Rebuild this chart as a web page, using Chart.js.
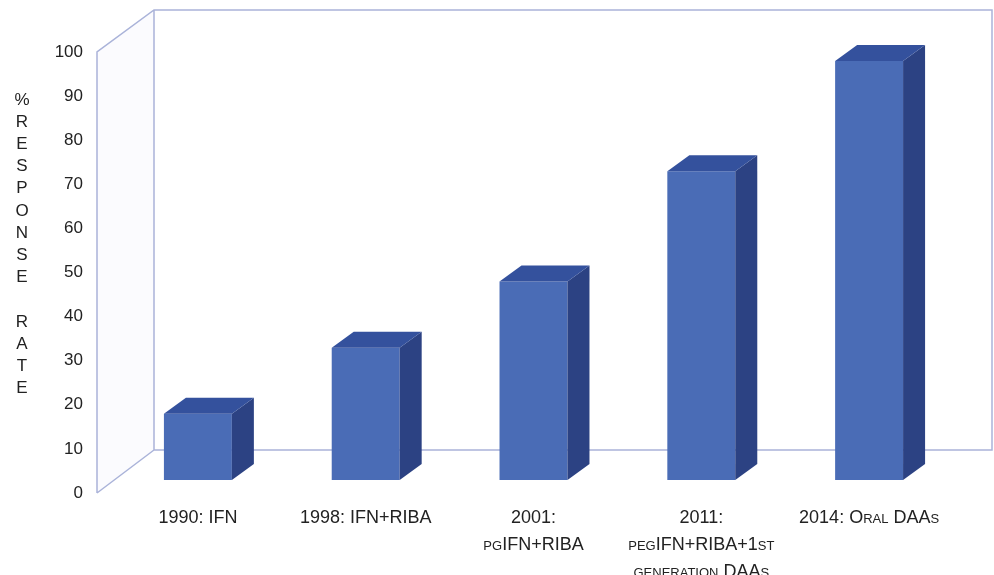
<!DOCTYPE html>
<html>
<head>
<meta charset="utf-8">
<script src="https://cdn.jsdelivr.net/npm/chart.js@4/dist/chart.umd.min.js"></script>
<style>
  html, body { margin: 0; padding: 0; background: #fff; }
  canvas { display: block; }
</style>
</head>
<body>
<canvas id="c" width="994" height="575"></canvas>
<script>
// Data
const categories = [
  '1990: IFN',
  '1998: IFN+RIBA',
  ['2001:', 'pgIFN+RIBA'],
  ['2011:', 'pegIFN+RIBA+1st', 'generation DAAs'],
  '2014: Oral DAAs'
];
const responseRate = [15, 30, 45, 70, 95];
const yTicks = { min: 0, max: 100, step: 10 };
const yTitle = '%RESPONSE RATE';

// look
const FONT = '"Liberation Sans", Arial, sans-serif';
const TXT = '#222';
const FRAME = '#aab3d9';
const FRONT = '#4a6cb6', TOP = '#34519d', SIDE = '#2c4283';

// 3d box: walls sit behind the front plane, bars a bit behind too
const WALL_DX = 57, WALL_DY = 43;
const FRONT_INSET = 17;    // front-left edge is left of the category area
const BACK_RIGHT = 39;     // back wall runs past the last category
const BAR_SHIFT = 13;      // bars stand this far up from the front floor
const BAR_DX = 22, BAR_DY = 16;

const box3d = {
  id: 'box3d',
  beforeDatasetsDraw(chart) {
    const { ctx, chartArea: a } = chart;
    const fx = a.left - FRONT_INSET;
    const bx = fx + WALL_DX, bt = a.top - WALL_DY + 1, bb = a.bottom - WALL_DY;
    const br = a.right + BACK_RIGHT;
    ctx.save();
    // faint side wall
    ctx.fillStyle = '#fbfbfe';
    ctx.beginPath();
    ctx.moveTo(fx, a.top); ctx.lineTo(bx, bt); ctx.lineTo(bx, bb); ctx.lineTo(fx, a.bottom);
    ctx.closePath(); ctx.fill();
    ctx.strokeStyle = FRAME;
    ctx.lineWidth = 1.5;
    ctx.beginPath();
    ctx.moveTo(fx, a.bottom); ctx.lineTo(fx, a.top); ctx.lineTo(bx, bt);
    ctx.lineTo(br, bt); ctx.lineTo(br, bb); ctx.lineTo(bx, bb); ctx.lineTo(bx, bt);
    ctx.moveTo(fx, a.bottom); ctx.lineTo(bx, bb);
    ctx.stroke();
    ctx.restore();
  },
  beforeDatasetDraw(chart) {
    chart.ctx.save();
    chart.ctx.translate(0, -BAR_SHIFT);
  },
  afterDatasetDraw(chart, args) {
    const ctx = chart.ctx;
    args.meta.data.forEach(el => {
      const { x, y, base, width } = el.getProps(['x', 'y', 'base', 'width'], true);
      const l = x - width / 2, r = x + width / 2;
      ctx.fillStyle = SIDE;
      ctx.beginPath();
      ctx.moveTo(r, y); ctx.lineTo(r + BAR_DX, y - BAR_DY);
      ctx.lineTo(r + BAR_DX, base - BAR_DY); ctx.lineTo(r, base);
      ctx.closePath(); ctx.fill();
      ctx.fillStyle = TOP;
      ctx.beginPath();
      ctx.moveTo(l, y); ctx.lineTo(l + BAR_DX, y - BAR_DY);
      ctx.lineTo(r + BAR_DX, y - BAR_DY); ctx.lineTo(r, y);
      ctx.closePath(); ctx.fill();
    });
    ctx.restore();
  },
  afterDraw(chart) {
    // stacked letters of the y title
    const ctx = chart.ctx;
    ctx.save();
    ctx.font = '17px ' + FONT;
    ctx.fillStyle = TXT;
    ctx.textAlign = 'center';
    ctx.textBaseline = 'middle';
    [...yTitle].forEach((ch, i) => ctx.fillText(ch, 22, 100 + i * 22.2));
    ctx.restore();
  }
};

new Chart(document.getElementById('c'), {
  type: 'bar',
  data: {
    labels: categories,
    datasets: [{
      data: responseRate,
      backgroundColor: FRONT,
      borderWidth: 0,
      categoryPercentage: 1,
      barPercentage: 0.405
    }]
  },
  options: {
    responsive: false,
    animation: false,
    devicePixelRatio: 1,
    layout: { padding: { left: 40, right: 41, top: 52, bottom: 0 } },
    plugins: { legend: { display: false }, tooltip: { enabled: false } },
    scales: {
      x: {
        grid: { display: false, drawTicks: false },
        border: { display: false },
        ticks: {
          color: TXT, padding: 12, maxRotation: 0, autoSkip: false,
          // small-caps goes into the font string through the weight slot
          font: { family: FONT, size: 18, weight: 'small-caps', lineHeight: 1.5 }
        },
        afterFit(s) { s.height = 82; }
      },
      y: {
        min: yTicks.min, max: yTicks.max,
        grid: { display: false, drawTicks: false },
        border: { display: false },
        ticks: { stepSize: yTicks.step, color: TXT, padding: 31, font: { family: FONT, size: 17 } },
        afterFit(s) { s.width = 74; }
      }
    }
  },
  plugins: [box3d]
});
</script>
</body>
</html>
